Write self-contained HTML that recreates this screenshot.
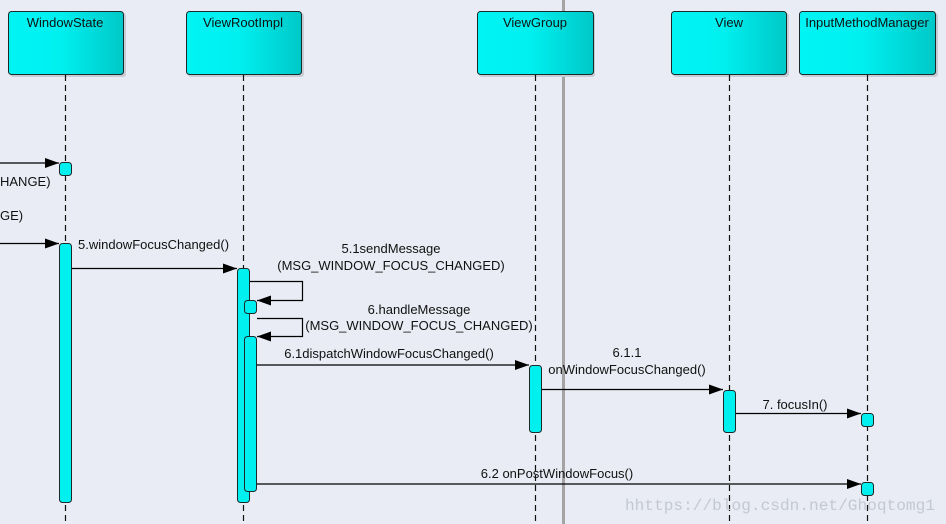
<!DOCTYPE html>
<html><head><meta charset="utf-8"><style>
html,body{margin:0;padding:0;background:#e9ecf4;}
svg{display:block;}
text{font-family:"Liberation Sans",sans-serif;font-size:13px;fill:#111;}
</style></head><body>
<svg width="946" height="524" viewBox="0 0 946 524" xmlns="http://www.w3.org/2000/svg">
<defs>
<linearGradient id="g" x1="0" y1="0" x2="1" y2="0">
<stop offset="0" stop-color="#00f4f4"/><stop offset="0.45" stop-color="#00f0f0"/><stop offset="1" stop-color="#00c8c8"/>
</linearGradient>
<marker id="a" viewBox="0 0 14 10" refX="14" refY="5" markerWidth="14" markerHeight="10" orient="auto" markerUnits="userSpaceOnUse">
<path d="M0,0 L14,5 L0,10 z" fill="#000"/></marker>
</defs>
<rect width="946" height="524" fill="#e9ecf4"/>
<rect x="562" y="0" width="3" height="524" fill="#a4a4a4"/>
<g fill="#c8ccd4">
<rect x="10" y="13" width="116" height="64" rx="3"/>
<rect x="188" y="13" width="116" height="64" rx="3"/>
<rect x="479" y="13" width="116" height="64" rx="3"/>
<rect x="673" y="13" width="116" height="64" rx="3"/>
<rect x="801" y="13" width="137" height="64" rx="3"/>
</g>
<g fill="url(#g)" stroke="#1a2a2a" stroke-width="1">
<rect x="8.5" y="11.5" width="115" height="63" rx="3"/>
<rect x="186.5" y="11.5" width="115" height="63" rx="3"/>
<rect x="477.5" y="11.5" width="116" height="63" rx="3"/>
<rect x="671.5" y="11.5" width="115" height="63" rx="3"/>
<rect x="799.5" y="11.5" width="136" height="63" rx="3"/>
</g>
<g text-anchor="middle" style="fill:#1a3a4a">
<text x="65" y="27">WindowState</text>
<text x="243" y="27">ViewRootImpl</text>
<text x="535" y="27">ViewGroup</text>
<text x="729" y="27">View</text>
<text x="867" y="27">InputMethodManager</text>
</g>
<g stroke="#111" stroke-width="1.2" stroke-dasharray="6,4">
<line x1="65.5" y1="75" x2="65.5" y2="524"/>
<line x1="243.5" y1="75" x2="243.5" y2="524"/>
<line x1="535.5" y1="75" x2="535.5" y2="524"/>
<line x1="729.5" y1="75" x2="729.5" y2="524"/>
<line x1="867.5" y1="75" x2="867.5" y2="524"/>
</g>
<g fill="#00f0f0" stroke="#1a2a2a" stroke-width="1">
<rect x="59.5" y="162.5" width="12" height="13" rx="3"/>
<rect x="59.5" y="243.5" width="12" height="259" rx="3"/>
<rect x="237.5" y="268.5" width="12" height="234" rx="3"/>
<rect x="244.5" y="300.5" width="12" height="13" rx="3"/>
<rect x="244.5" y="336.5" width="12" height="155" rx="3"/>
<rect x="529.5" y="365.5" width="12" height="67" rx="3"/>
<rect x="723.5" y="390.5" width="12" height="42" rx="3"/>
<rect x="861.5" y="413.5" width="12" height="13" rx="3"/>
<rect x="861.5" y="482.5" width="12" height="13" rx="3"/>
</g>
<g stroke="#000" stroke-width="1.2" fill="none" marker-end="url(#a)">
<line x1="0" y1="163" x2="59" y2="163"/>
<line x1="0" y1="243.5" x2="59" y2="243.5"/>
<line x1="72" y1="268.5" x2="237" y2="268.5"/>
<polyline points="250,281.5 302.5,281.5 302.5,300.5 257,300.5"/>
<polyline points="257,318.5 302.5,318.5 302.5,336.5 257,336.5"/>
<line x1="257" y1="365" x2="529" y2="365"/>
<line x1="542" y1="389.5" x2="723" y2="389.5"/>
<line x1="736" y1="413.5" x2="861" y2="413.5"/>
<line x1="257" y1="484" x2="861" y2="484"/>
</g>
<text x="0" y="186">HANGE)</text>
<text x="0" y="220">GE)</text>
<text x="78" y="249">5.windowFocusChanged()</text>
<g text-anchor="middle">
<text x="391" y="253">5.1sendMessage</text>
<text x="391" y="270">(MSG_WINDOW_FOCUS_CHANGED)</text>
<text x="419" y="314">6.handleMessage</text>
<text x="419" y="330">(MSG_WINDOW_FOCUS_CHANGED)</text>
<text x="389" y="358">6.1dispatchWindowFocusChanged()</text>
<text x="627" y="357">6.1.1</text>
<text x="627" y="374">onWindowFocusChanged()</text>
<text x="795" y="409">7. focusIn()</text>
<text x="557" y="478">6.2 onPostWindowFocus()</text>
</g>
<text x="625" y="510" textLength="310" lengthAdjust="spacingAndGlyphs" style="fill:#c4c8d0;font-family:'Liberation Mono',monospace;font-size:15.5px;">hhttps://blog.csdn.net/Ghoqtomg1</text>
</svg>
</body></html>
